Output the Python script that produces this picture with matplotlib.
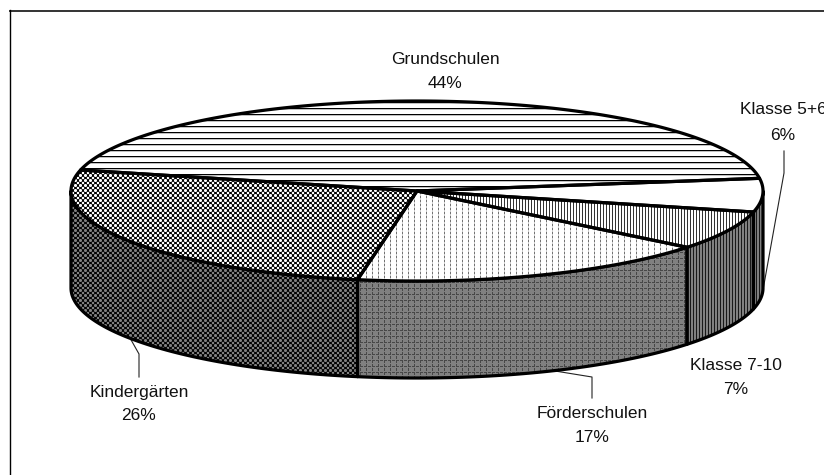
import numpy as np
import matplotlib
matplotlib.use("Agg")
import matplotlib.pyplot as plt
from matplotlib.patches import Polygon

categories = ["Grundschulen", "Klasse 5+6", "Klasse 7-10", "Förderschulen", "Kindergärten"]
shares = [44, 6, 7, 17, 26]
tick_labels = [f"{s}%" for s in shares]

W, H = 824, 475
CX, CY, RX, RY, DEPTH = 417, 191, 346, 90, 97
START = 166.5
plt.rcParams['font.family'] = ['Liberation Sans', 'DejaVu Sans']

yy, xx = np.mgrid[0:H, 0:W]
soft = np.clip(0.5 + 1.6 * np.cos(2 * np.pi * xx / 5) * np.cos(2 * np.pi * yy / 5), 0, 1)

def tex(kind):
    img = np.ones((H, W))
    if kind == 'hlines':
        img[(yy % 6) == 0] = 0.0
        img[(yy % 6) == 1] = 0.75
    elif kind == 'vdense':
        img[(xx % 3) == 0] = 0.2
    elif kind == 'vdash':
        img[((xx % 6) == 0) & ((yy % 4) < 2)] = 0.45
        img[((xx % 6) == 0) & ((yy % 4) >= 2)] = 0.8
    elif kind == 'check':
        img = soft.copy()
    elif kind == 'gray_check':
        img = 0.5 * soft
    elif kind == 'gray_grid':
        img[:] = 0.5
        img[((xx % 6) == 0) & ((yy % 4) < 3)] = 0.28
        img[((yy % 6) == 0) & ((xx % 4) < 3)] = 0.28
    elif kind == 'gray_v':
        img[:] = 0.5
        img[(xx % 3) == 0] = 0.1
    return img

top_tex = ['hlines', 'white', 'vdense', 'vdash', 'check']
side_tex = ['gray_v', 'gray_v', 'gray_v', 'gray_grid', 'gray_check']

fig = plt.figure(figsize=(W / 100, H / 100), dpi=100, facecolor='white')
ax = fig.add_axes([0, 0, 1, 1])
ax.set_xlim(0, W)
ax.set_ylim(H, 0)
ax.axis('off')

def pt(a, dy=0):
    r = np.radians(a)
    return np.c_[CX + RX * np.cos(r), CY - RY * np.sin(r) + dy]

def fill(poly, kind, lw=2.3, z=2):
    im = ax.imshow(tex(kind), cmap='gray', vmin=0, vmax=1, extent=(0, W, H, 0),
                   interpolation='nearest', zorder=z, aspect='auto')
    p = Polygon(poly, closed=True, transform=ax.transData, fc='none', ec='none')
    ax.add_patch(p)
    im.set_clip_path(p)
    ax.add_patch(Polygon(poly, closed=True, fc='none', ec='black', lw=lw, joinstyle='round', zorder=z + 0.5))

edges = START - np.cumsum([0] + shares) * 3.6

# side walls (front half only)
for i in range(len(shares)):
    a0, a1 = edges[i], edges[i + 1]
    lo, hi = max(a1, -180), min(a0, 0)
    if hi > lo:
        ang = np.linspace(hi, lo, 80)
        poly = np.vstack([pt(ang), pt(ang[::-1], DEPTH)])
        fill(poly, side_tex[i], z=2)

# top slices
for i in range(len(shares)):
    ang = np.linspace(edges[i], edges[i + 1], 160)
    poly = np.vstack([[[CX, CY]], pt(ang)])
    fill(poly, top_tex[i], z=3)

# frame
ax.plot([W + 2, 10.5], [10.5, 10.5], color='#333333', lw=1.4, zorder=1)
ax.plot([10.5, 10.5], [10, H + 2], color='black', lw=1.0, zorder=1)

# labels
label_pos = [((445, 59), (445, 84)), ((783, 110), (783, 135)), ((735.5, 366), (735.5, 390)),
             ((592, 414), (592, 438)), ((139, 392), (139, 416))]
for name, pct, (p1, p2) in zip(categories, tick_labels, label_pos):
    ax.text(*p1, name, ha='center', va='center', fontsize=10.6 * 109 / 92, color='#111111', zorder=6)
    ax.text(*p2, pct, ha='center', va='center', fontsize=10.6 * 109 / 92, color='#111111', zorder=6)

# leader lines
for xs, ys in [([784, 784, 763], [151, 173, 290]),
               ([592, 592, 555], [398, 377, 371]),
               ([139, 139, 130], [377, 354, 338])]:
    ax.plot(xs, ys, color='#222222', lw=0.8, zorder=1.5)

fig.savefig('out.png', dpi=100, facecolor='white')
